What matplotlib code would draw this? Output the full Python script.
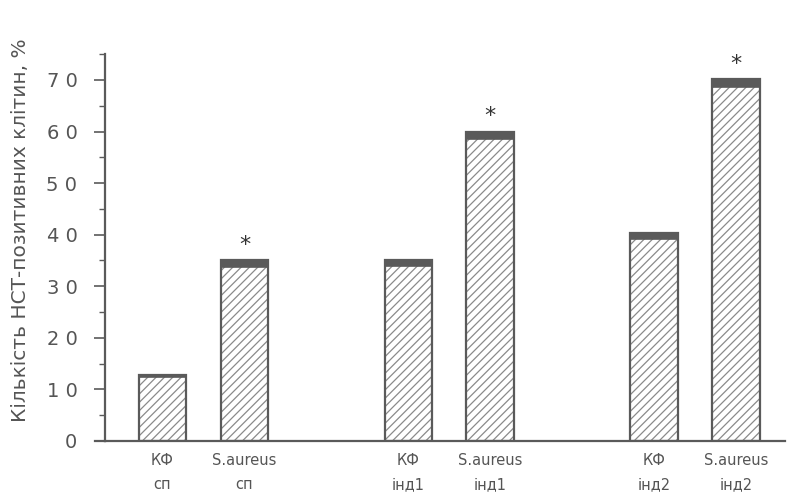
import matplotlib
matplotlib.use("Agg")
import matplotlib.pyplot as plt
from matplotlib.ticker import MultipleLocator

# NBT-positive cells per group
categories = ["КФ\nсп", "S.aureus\nсп", "КФ\nінд1", "S.aureus\nінд1", "КФ\nінд2", "S.aureus\nінд2"]
positions = [0, 1, 3, 4, 6, 7]
values = [12.8, 35.0, 35.0, 60.0, 40.3, 70.2]
errors = [0.5, 1.2, 1.1, 1.5, 1.1, 1.5]
significant = [False, True, False, True, False, True]
y_ticks = [0, 10, 20, 30, 40, 50, 60, 70]

grey = "#5a5a5a"
plt.rcParams["hatch.linewidth"] = 0.9
plt.rcParams["font.family"] = ["DejaVu Sans"]

fig = plt.figure(figsize=(7.97, 4.97), dpi=100)
ax = fig.add_axes([0.132, 0.113, 0.853, 0.778])

# hatched bars
ax.bar(positions, values, width=0.58, color="white", edgecolor="#8a8a8a",
       hatch="////", linewidth=0, zorder=2)
ax.bar(positions, values, width=0.58, fill=False, edgecolor=grey,
       linewidth=1.6, zorder=3)
# dark cap on top of each bar
for x, v, e in zip(positions, values, errors):
    ax.bar(x, e, bottom=v - e, width=0.58, color=grey, edgecolor=grey,
           linewidth=1.2, zorder=4)

for x, v, s in zip(positions, values, significant):
    if s:
        ax.text(x, v + 1.0, "*", ha="center", va="bottom", fontsize=16,
                color="#333333")

ax.set_xlim(-0.7, 7.6)
ax.set_ylim(0, 75)
ax.set_yticks(y_ticks)
ax.set_yticklabels([" ".join(str(t)) for t in y_ticks])
ax.yaxis.set_minor_locator(MultipleLocator(5))
ax.tick_params(axis="y", which="major", length=8, width=1.2, color=grey,
               labelcolor="#555555", labelsize=14, pad=12)
ax.tick_params(axis="y", which="minor", length=4, width=1.0, color=grey)

ax.set_xticks(positions)
ax.set_xticklabels(categories, fontsize=10.5, color="#555555", linespacing=1.7)
ax.tick_params(axis="x", length=0, pad=9)

for side in ["top", "right"]:
    ax.spines[side].set_visible(False)
for side in ["left", "bottom"]:
    ax.spines[side].set_color(grey)
    ax.spines[side].set_linewidth(1.6)
# baseline runs a little past the y axis
ax.plot([-0.82, -0.7], [0, 0], color=grey, linewidth=1.6, clip_on=False)

ax.set_ylabel("Кількість НСТ-позитивних клітин, %", fontsize=14.5,
              color="#555555")
ax.yaxis.set_label_coords(-0.11, 0.545)

fig.savefig("out.png", dpi=100, facecolor="white")
